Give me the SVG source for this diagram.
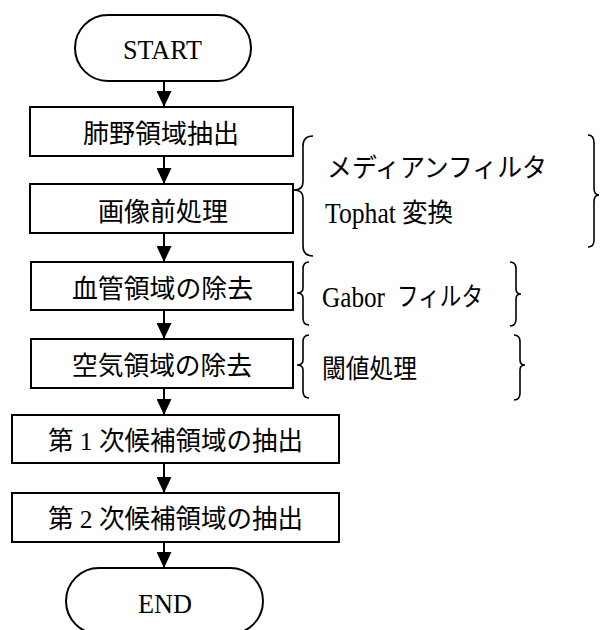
<svg xmlns="http://www.w3.org/2000/svg" width="600" height="630" viewBox="0 0 600 630">
<style>
.box{fill:#fff;stroke:#000;stroke-width:2}
.term{fill:#fff;stroke:#000;stroke-width:2}
.t{font-family:"Liberation Serif","Noto Sans CJK JP",serif;font-size:26px;fill:#000;dominant-baseline:central}
.e{font-family:"Liberation Serif",serif;font-size:27px;fill:#000}
.lat{font-family:"Liberation Serif",serif;font-size:29px;fill:#000;dominant-baseline:central}
.c{stroke:#000;stroke-width:2;fill:none}
.br{stroke:#000;stroke-width:1.6;fill:none}
</style>
<defs>
<marker id="ah" markerWidth="16" markerHeight="15" refX="16" refY="7.5" orient="auto" markerUnits="userSpaceOnUse">
<path d="M0,0 L16,7.5 L0,15 Z" fill="#000"/>
</marker>
</defs>
<g id="connectors">
<line class="c" x1="164" y1="81" x2="164" y2="107" marker-end="url(#ah)"/>
<line class="c" x1="164" y1="156" x2="164" y2="184" marker-end="url(#ah)"/>
<line class="c" x1="164" y1="233" x2="164" y2="262" marker-end="url(#ah)"/>
<line class="c" x1="164" y1="310" x2="164" y2="339" marker-end="url(#ah)"/>
<line class="c" x1="164" y1="388" x2="164" y2="415" marker-end="url(#ah)"/>
<line class="c" x1="164" y1="463" x2="164" y2="493" marker-end="url(#ah)"/>
<line class="c" x1="164" y1="542" x2="164" y2="568" marker-end="url(#ah)"/>
</g>
<g id="start">
<rect class="term" x="75" y="15" width="176" height="66" rx="33" ry="33"/>
<text class="e" x="123" y="59" textLength="79" lengthAdjust="spacingAndGlyphs">START</text>
</g>
<g id="n1">
<rect class="box" x="30" y="107" width="263" height="49"/>
<text class="t" x="83" y="134" textLength="156" lengthAdjust="spacingAndGlyphs">肺野領域抽出</text>
</g>
<g id="n2">
<rect class="box" x="30" y="184" width="263" height="49"/>
<text class="t" x="98" y="212" textLength="130" lengthAdjust="spacingAndGlyphs">画像前処理</text>
</g>
<g id="n3">
<rect class="box" x="31" y="262" width="262" height="48"/>
<text class="t" x="72" y="289" textLength="181" lengthAdjust="spacingAndGlyphs">血管領域の除去</text>
</g>
<g id="n4">
<rect class="box" x="31" y="339" width="262" height="49"/>
<text class="t" x="72" y="366" textLength="180" lengthAdjust="spacingAndGlyphs">空気領域の除去</text>
</g>
<g id="n5">
<rect class="box" x="12" y="415" width="327" height="48"/>
<text class="t" x="48" y="441" textLength="255" lengthAdjust="spacingAndGlyphs">第 1 次候補領域の抽出</text>
</g>
<g id="n6">
<rect class="box" x="12" y="493" width="327" height="49"/>
<text class="t" x="48" y="519" textLength="255" lengthAdjust="spacingAndGlyphs">第 2 次候補領域の抽出</text>
</g>
<g id="end">
<rect class="term" x="66" y="568" width="197" height="66" rx="33" ry="33"/>
<text class="e" x="138" y="613" textLength="54" lengthAdjust="spacingAndGlyphs">END</text>
</g>
<g id="note1">
<path class="br" d="M313,136 Q303,136 303,146 L303,182 Q303,190 294,190 Q303,190 303,198 L303,246 Q303,256 313,256"/>
<path class="br" d="M588,135 Q594,135 594,143 L594,188 Q594,195 599,195 Q594,195 594,202 L594,240 Q594,247 588,247"/>
<text class="t" x="327" y="168" textLength="220" lengthAdjust="spacingAndGlyphs">メディアンフィルタ</text>
<text class="lat" x="325" y="213" textLength="71" lengthAdjust="spacingAndGlyphs">Tophat</text>
<text class="t" x="402" y="213" textLength="51" lengthAdjust="spacingAndGlyphs">変換</text>
</g>
<g id="note2">
<path class="br" d="M309,262 Q303,262 303,269 L303,288 Q303,293 297,293 Q303,293 303,298 L303,318 Q303,325 309,325"/>
<path class="br" d="M510,262 Q516,262 516,269 L516,289 Q516,294 521,294 Q516,294 516,299 L516,319 Q516,326 510,326"/>
<text class="lat" x="322" y="297" textLength="63" lengthAdjust="spacingAndGlyphs">Gabor</text>
<text class="t" x="397" y="297" textLength="86" lengthAdjust="spacingAndGlyphs">フィルタ</text>
</g>
<g id="note3">
<path class="br" d="M309,335 Q303,335 303,342 L303,360 Q303,365 297,365 Q303,365 303,370 L303,391 Q303,398 309,398"/>
<path class="br" d="M514,335 Q520,335 520,342 L520,360 Q520,365 525,365 Q520,365 520,370 L520,393 Q520,400 514,400"/>
<text class="t" x="322" y="369" textLength="95" lengthAdjust="spacingAndGlyphs">閾値処理</text>
</g>
</svg>
